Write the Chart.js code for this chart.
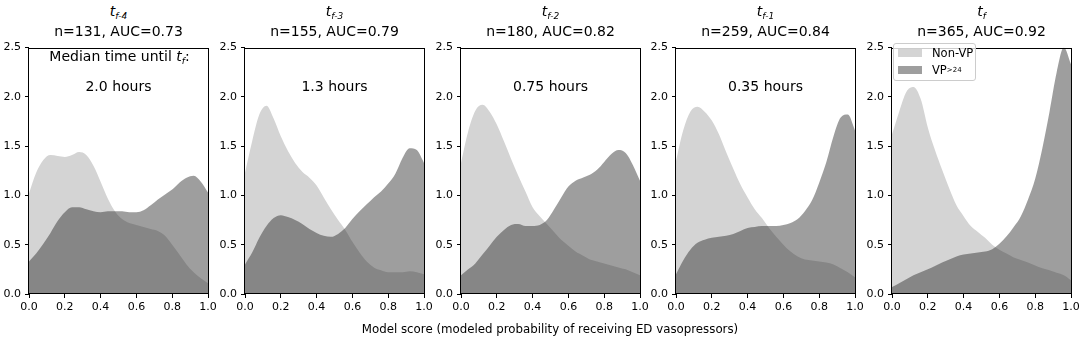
<!DOCTYPE html>
<html>
<head>
<meta charset="utf-8">
<script src="https://cdn.jsdelivr.net/npm/chart.js@4.4.0/dist/chart.umd.min.js"></script>
<style>
  body { margin: 0; background: #fff; font-family: "DejaVu Sans", sans-serif; }
  #wrap { position: relative; width: 1084px; height: 347px; overflow: hidden; }
  #wrap canvas { position: absolute; top: 37px; }
  .txt { position: absolute; transform: translate(-50%, -50%); white-space: nowrap; font-size: 14px; color: #000; line-height: 1; }
  .txt sub { font-size: 9px; vertical-align: -3px; line-height: 0; }
  #legend { position: absolute; left: 893px; top: 43px; width: 81px; height: 36px; border: 1px solid #ccc;
            border-radius: 3px; background: rgba(255,255,255,0.8); font-size: 11.5px; z-index: 5; }
  #legend .row { position: absolute; left: 4px; height: 12px; display: flex; align-items: center; }
  #legend .patch { width: 24px; height: 8px; margin-right: 10px; }
  #legend sub { font-size: 7px; vertical-align: -2px; line-height: 0; }
</style>
</head>
<body>
<div id="wrap"></div>
<script>
// model score grid shared by all density curves
const scoreGrid = [0, 0.04, 0.08, 0.12, 0.16, 0.20, 0.24, 0.28, 0.32, 0.36, 0.40, 0.44, 0.48,
                   0.52, 0.56, 0.60, 0.64, 0.68, 0.72, 0.76, 0.80, 0.84, 0.88, 0.92, 0.96, 1.00];

const panelSub = ["f-4", "f-3", "f-2", "f-1", "f"];
const panelN = [131, 155, 180, 259, 365];
const panelAUC = ["0.73", "0.79", "0.82", "0.84", "0.92"];
const medianHours = ["2.0 hours", "1.3 hours", "0.75 hours", "0.35 hours"];

const nonVP_f4 = [1.02, 1.23, 1.36, 1.41, 1.40, 1.39, 1.41, 1.44, 1.41, 1.30, 1.14, 0.97, 0.84,
                  0.76, 0.72, 0.70, 0.68, 0.66, 0.64, 0.59, 0.50, 0.40, 0.30, 0.22, 0.16, 0.11];
const vp_f4    = [0.33, 0.41, 0.51, 0.62, 0.74, 0.83, 0.88, 0.88, 0.86, 0.84, 0.83, 0.84, 0.84,
                  0.84, 0.83, 0.83, 0.85, 0.90, 0.96, 1.01, 1.06, 1.13, 1.18, 1.20, 1.14, 1.03];

const nonVP_f3 = [1.23, 1.55, 1.82, 1.91, 1.78, 1.60, 1.45, 1.33, 1.24, 1.18, 1.10, 0.98, 0.86,
                  0.75, 0.65, 0.53, 0.42, 0.33, 0.27, 0.24, 0.22, 0.22, 0.22, 0.23, 0.22, 0.20];
const vp_f3    = [0.30, 0.42, 0.57, 0.69, 0.77, 0.80, 0.78, 0.75, 0.71, 0.66, 0.62, 0.59, 0.58,
                  0.61, 0.67, 0.76, 0.84, 0.91, 0.98, 1.04, 1.12, 1.22, 1.38, 1.48, 1.46, 1.33];

const nonVP_f2 = [1.33, 1.65, 1.86, 1.92, 1.85, 1.72, 1.55, 1.37, 1.20, 1.04, 0.88, 0.79, 0.71,
                  0.63, 0.55, 0.49, 0.43, 0.39, 0.35, 0.33, 0.31, 0.29, 0.27, 0.25, 0.22, 0.19];
const vp_f2    = [0.19, 0.25, 0.31, 0.40, 0.49, 0.58, 0.65, 0.70, 0.71, 0.69, 0.69, 0.70, 0.75,
                  0.86, 0.98, 1.09, 1.15, 1.18, 1.21, 1.26, 1.34, 1.42, 1.46, 1.43, 1.31, 1.15];

const nonVP_f1 = [1.35, 1.66, 1.85, 1.90, 1.85, 1.76, 1.62, 1.44, 1.27, 1.11, 0.98, 0.86, 0.77,
                  0.67, 0.58, 0.50, 0.43, 0.38, 0.35, 0.34, 0.33, 0.32, 0.30, 0.26, 0.22, 0.17];
const vp_f1    = [0.20, 0.34, 0.45, 0.52, 0.55, 0.57, 0.58, 0.59, 0.61, 0.64, 0.67, 0.68, 0.69,
                  0.69, 0.69, 0.70, 0.72, 0.76, 0.84, 0.95, 1.13, 1.34, 1.60, 1.79, 1.82, 1.66];

const nonVP_f0 = [1.62, 1.85, 2.05, 2.10, 1.98, 1.69, 1.46, 1.26, 1.07, 0.90, 0.79, 0.69, 0.63,
                  0.57, 0.50, 0.45, 0.41, 0.37, 0.345, 0.32, 0.29, 0.26, 0.24, 0.215, 0.19, 0.14];
const vp_f0    = [0.07, 0.11, 0.15, 0.19, 0.22, 0.25, 0.285, 0.32, 0.35, 0.38, 0.40, 0.41, 0.42,
                  0.43, 0.455, 0.51, 0.585, 0.68, 0.79, 0.96, 1.17, 1.48, 1.85, 2.25, 2.50, 2.33];

const nonVPSeries = [nonVP_f4, nonVP_f3, nonVP_f2, nonVP_f1, nonVP_f0];
const vpSeries = [vp_f4, vp_f3, vp_f2, vp_f1, vp_f0];

const nonVPColor = "#d4d4d4";
const vpColor = "rgba(40,40,40,0.45)";

Chart.defaults.font.family = "DejaVu Sans";
Chart.defaults.font.size = 11;
Chart.defaults.color = "#000";

const wrap = document.getElementById("wrap");
const panelLeft = [29, 245, 461, 676, 892];
const plotW = 179, plotH = 252, yAxisW = 28, xAxisH = 30, padTop = 5, padRight = 12;

// full box round the plot, like matplotlib spines
const boxPlugin = {
  id: "box",
  afterDatasetsDraw(chart) {
    const a = chart.chartArea;
    const ctx = chart.ctx;
    ctx.save();
    ctx.strokeStyle = "#000";
    ctx.lineWidth = 1;
    ctx.strokeRect(Math.round(a.left) - 0.5, Math.round(a.top) + 0.5,
                   Math.round(a.right - a.left) + 1, Math.round(a.bottom - a.top) - 1);
    ctx.restore();
  }
};

function toPoints(vals) {
  return scoreGrid.map((x, i) => ({ x: x, y: vals[i] }));
}

function addText(html, x, y, size) {
  const d = document.createElement("div");
  d.className = "txt";
  d.style.left = x + "px";
  d.style.top = y + "px";
  if (size) d.style.fontSize = size + "px";
  d.innerHTML = html;
  wrap.appendChild(d);
}

for (let i = 0; i < 5; i++) {
  const canvas = document.createElement("canvas");
  canvas.width = yAxisW + plotW + padRight;
  canvas.height = padTop + plotH + xAxisH;
  canvas.style.left = (panelLeft[i] - yAxisW) + "px";
  wrap.appendChild(canvas);

  new Chart(canvas, {
    type: "line",
    data: {
      datasets: [
        {
          label: "VP>24",
          data: toPoints(vpSeries[i]),
          backgroundColor: vpColor,
          borderWidth: 0,
          pointRadius: 0,
          fill: "origin",
          cubicInterpolationMode: "monotone"
        },
        {
          label: "Non-VP",
          data: toPoints(nonVPSeries[i]),
          backgroundColor: nonVPColor,
          borderWidth: 0,
          pointRadius: 0,
          fill: "origin",
          cubicInterpolationMode: "monotone"
        }
      ]
    },
    options: {
      responsive: false,
      animation: false,
      events: [],
      layout: { padding: { top: padTop, right: padRight, left: 0, bottom: 0 } },
      plugins: { legend: { display: false }, tooltip: { enabled: false } },
      scales: {
        x: {
          type: "linear",
          min: 0,
          max: 1,
          afterFit(s) { s.height = xAxisH; },
          border: { display: false },
          grid: { drawOnChartArea: false, drawTicks: true, tickLength: 4, color: "#000" },
          ticks: { stepSize: 0.2, padding: 3, maxRotation: 0, callback: v => v.toFixed(1) }
        },
        y: {
          min: 0,
          max: 2.5,
          afterFit(s) { s.width = yAxisW; },
          border: { display: false },
          grid: { drawOnChartArea: false, drawTicks: true, tickLength: 4, color: "#000" },
          ticks: { stepSize: 0.5, padding: 4, callback: v => v.toFixed(1) }
        }
      }
    },
    plugins: [boxPlugin]
  });

  const cx = panelLeft[i] + plotW / 2;
  const tHtml = panelSub[i] === "f" ? "<i>t<sub>f</sub></i>" : "<i>t<sub>" + panelSub[i] + "</sub></i>";
  addText(tHtml, cx, 11);
  addText("n=" + panelN[i] + ", AUC=" + panelAUC[i], cx, 31);
  if (i === 0) addText("Median time until <i>t<sub>f</sub></i>:", cx + 1, 56);
  if (i < 4) addText(medianHours[i], cx, 86);
}

addText("Model score (modeled probability of receiving ED vasopressors)", 550, 330, 11.8);

const legend = document.createElement("div");
legend.id = "legend";
legend.innerHTML =
  '<div class="row" style="top:3px"><div class="patch" style="background:' + nonVPColor + '"></div>Non-VP</div>' +
  '<div class="row" style="top:20px"><div class="patch" style="background:' + vpColor + '"></div>VP<sub>&gt;24</sub></div>';
wrap.appendChild(legend);
</script>
</body>
</html>
